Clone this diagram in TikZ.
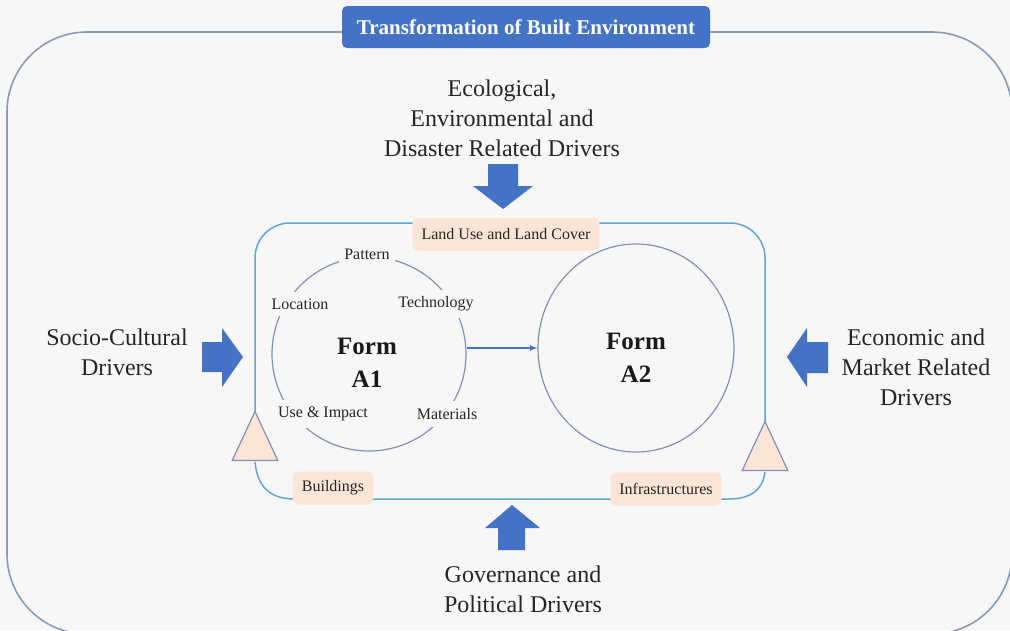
\documentclass[tikz,border=0pt]{standalone}
\usepackage{fontspec}
\setmainfont{Liberation Serif}
\usetikzlibrary{shapes.geometric}
\definecolor{bgcol}{HTML}{F7F7F7}
\definecolor{framecol}{HTML}{8A9BB8}
\definecolor{cyclecol}{HTML}{62A7D2}
\definecolor{ringcol}{HTML}{7F92B6}
\definecolor{peach}{HTML}{FBE5D6}
\definecolor{driveblue}{HTML}{4472C4}
\begin{document}
\begin{tikzpicture}[x=1pt,y=-1pt,
  drivertext/.style={align=center,font=\fontsize{24}{30}\selectfont,text=black!85},
  tag/.style={fill=peach,rounded corners=5pt,inner xsep=9pt,minimum height=33pt,
    font=\fontsize{16}{18}\selectfont,text=black!85},
  ringlabel/.style={fill=bgcol,inner xsep=5pt,inner ysep=7pt,
    font=\fontsize{16}{18}\selectfont,text=black!85},
  formtext/.style={align=center,font=\bfseries\fontsize{25}{33}\selectfont,text=black!90},
  blockarrow/.style={fill=driveblue},
  corner/.style={isosceles triangle,isosceles triangle apex angle=50,shape border rotate=90,
    draw=ringcol,line width=1.2pt,fill=peach,minimum height=49pt,inner sep=0pt}]
% canvas
\fill[bgcol] (0,0) rectangle (1010,630);
\useasboundingbox (0,0) rectangle (1010,630);
\begin{scope}
\clip (0,0) rectangle (1010,630);
% outer frame of the built environment
\draw[framecol,line width=1.6pt,rounded corners=80pt] (7,32) rectangle (1012,634);
\end{scope}
% title
\node[fill=driveblue,rounded corners=5pt,minimum width=368pt,minimum height=42pt,
  text=white,font=\bfseries\fontsize{21}{23}\selectfont] (title) at (526,27)
  {Transformation of Built Environment};

% cycle of change (inner rounded frame)
\draw[cyclecol,line width=1.5pt] (255,413) -- (255,258) arc[start angle=180,end angle=270,radius=35]
  -- (730,223) arc[start angle=270,end angle=360,radius=35] -- (765,426);
\draw[cyclecol,line width=1.5pt] (255,462) .. controls (258,492) and (275,499) .. (296,499) -- (729,499)
  .. controls (750,499) and (763,490) .. (765,472);

% corner triangles
\node[corner] (triL) at (255,446) {};
\node[corner] (triR) at (765,456) {};

% tags on the cycle
\node[tag] (landuse) at (506,234) {Land Use and Land Cover};
\node[tag] (buildings) at (333,488) {Buildings};
\node[tag] (infra) at (666,489) {Infrastructures};

% form A1 with its attributes
\node[circle,draw=ringcol,line width=1.2pt,minimum size=194pt] (formA1) at (369,354) {};
\node[ringlabel] (pattern) at (367,254) {Pattern};
\node[ringlabel] (location) at (300,304) {Location};
\node[ringlabel] (technology) at (436,304) {Technology};
\node[ringlabel] (useimpact) at (323,414) {Use \& Impact};
\node[ringlabel] (materials) at (447,414) {Materials};
\node[formtext] (a1text) at (367,363) {Form\\A1};

% form A2
\node[ellipse,draw=ringcol,line width=1.2pt,minimum width=196pt,minimum height=208pt] (formA2) at (636,348) {};
\node[formtext] (a2text) at (636,358) {Form\\A2};

% transition A1 -> A2
\draw[driveblue,line width=1.6pt,-latex] (formA1.east |- 0,348) -- (formA2.west);

% drivers
\node[drivertext] (eco) at (502,118) {Ecological,\\Environmental and\\Disaster Related Drivers};
\node[drivertext] (socio) at (117,352) {Socio-Cultural\\Drivers};
\node[drivertext] (econ) at (916,367) {Economic and\\Market Related\\Drivers};
\node[drivertext] (gov) at (523,589) {Governance and\\Political Drivers};

% block arrows pushing on the cycle
\fill[blockarrow] (488,164) -- (518,164) -- (518,186) -- (533,186) -- (503,209) -- (473,186) -- (488,186) -- cycle;
\fill[blockarrow] (202,342) -- (222,342) -- (222,328) -- (243,357) -- (222,387) -- (222,372) -- (202,372) -- cycle;
\fill[blockarrow] (828,342) -- (807,342) -- (807,328) -- (787,357) -- (807,387) -- (807,373) -- (828,373) -- cycle;
\fill[blockarrow] (498,550) -- (525,550) -- (525,528) -- (540,528) -- (512,505) -- (485,528) -- (498,528) -- cycle;
\end{tikzpicture}
\end{document}
